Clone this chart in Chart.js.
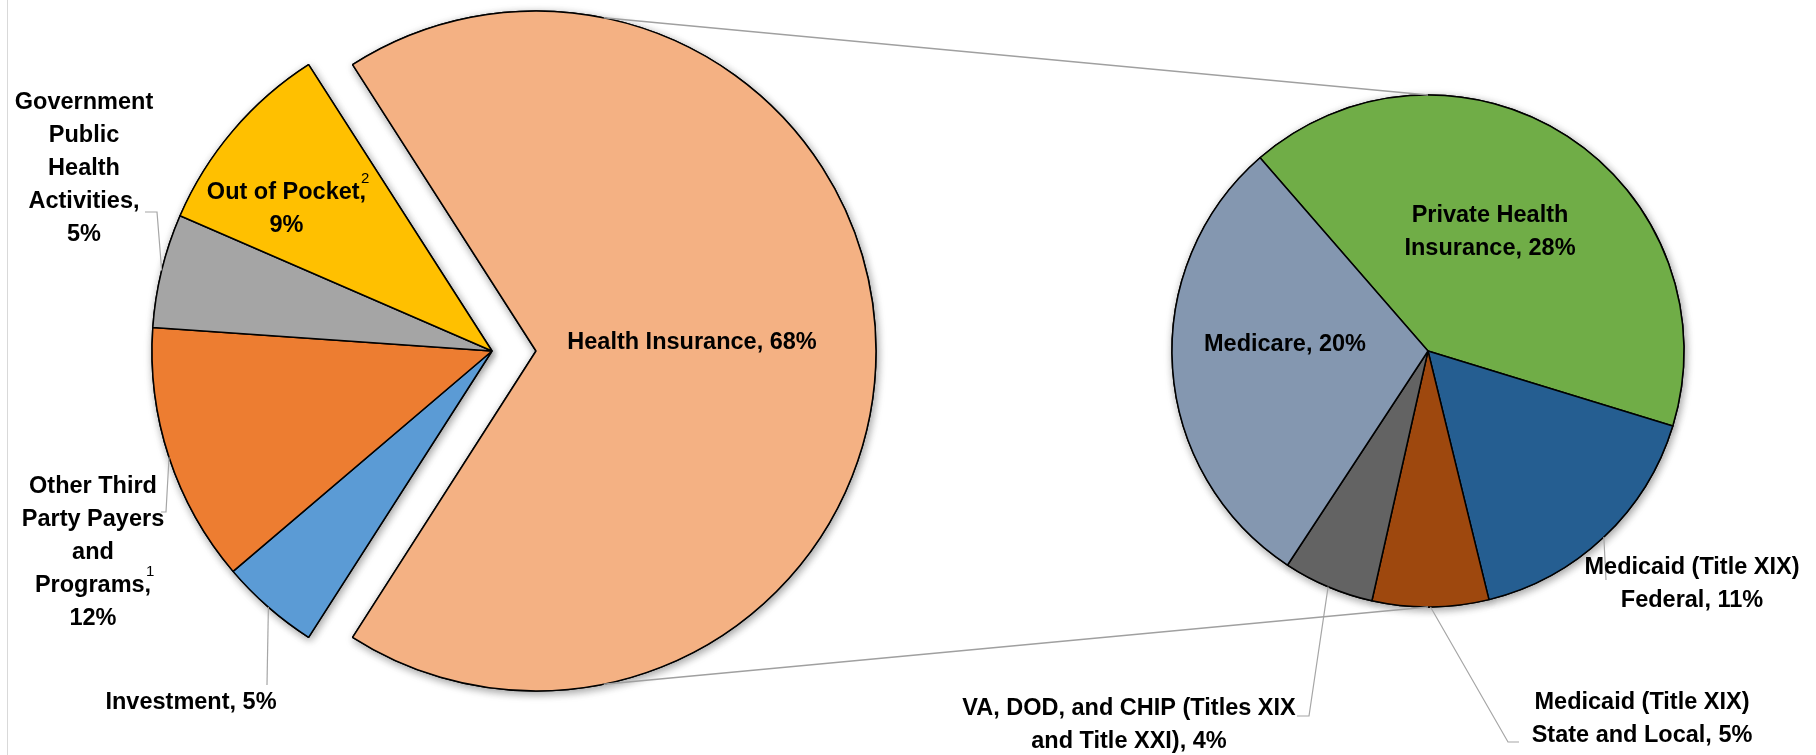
<!DOCTYPE html>
<html>
<head>
<meta charset="utf-8">
<script src="https://cdn.jsdelivr.net/npm/chart.js@4.4.1/dist/chart.umd.min.js"></script>
<style>
html,body{margin:0;padding:0;background:#fff;}
#wrap{position:relative;width:1816px;height:755px;overflow:hidden;background:#fff;}
#wrap canvas{position:absolute;left:0;top:0;}
#frame{position:absolute;left:7px;top:0;width:1px;height:755px;background:#d9d9d9;}
</style>
</head>
<body>
<div id="wrap">
  <div id="frame"></div>
  <canvas id="mainPie" width="1816" height="755"></canvas>
  <canvas id="subPie" width="1816" height="755"></canvas>
</div>
<script>
// ---------------- DATA ----------------
const mainCategories = ['Health Insurance', 'Investment', 'Other Third Party Payers and Programs', 'Government Public Health Activities', 'Out of Pocket'];
const mainValues = [68.0, 4.7, 12.3, 5.4, 9.4];
const mainColors = ['#F4B183', '#5B9BD5', '#ED7D31', '#A5A5A5', '#FFC000'];

const subCategories = ['Private Health Insurance', 'Medicaid (Title XIX) Federal', 'Medicaid (Title XIX) State and Local', 'VA, DOD, and CHIP (Titles XIX and Title XXI)', 'Medicare'];
const subValues = [28.0, 11.2, 5.0, 3.9, 20.0];
const subColors = ['#70AD47', '#255E91', '#9E480E', '#636363', '#8497B0'];

// ---------------- LAYOUT ----------------
const W = 1816, H = 755;
const FONT = '"Liberation Sans", Arial, sans-serif';
const LABEL_FONT = 'bold 23.5px ' + FONT;
const SUP_FONT = '15px ' + FONT;
const LINE_H = 33;
const mainCenter = {x: 492, y: 351}, mainRadius = 340, explodeDist = 44;
const subCenter = {x: 1428, y: 351}, subRadius = 256, subRotation = -41;

// label positions relative to the slice centre (px); {p} = value label
const mainLabelLayout = [
  {lines: ['Health Insurance, {p}'], dx: 156, dy: -8},
  {lines: ['Investment, {p}'], dx: -301, dy: 352, leader: [[-225, 334]]},
  {lines: ['Other Third', 'Party Payers', 'and', 'Programs,', '{p}'], sup: {line: 3, text: '1'}, dx: -399, dy: 136, leader: [[-326, 161], [-331, 161]]},
  {lines: ['Government', 'Public', 'Health', 'Activities,', '{p}'], dx: -408, dy: -248, leader: [[-335, -139], [-347, -139]]},
  {lines: ['Out of Pocket,', '{p}'], sup: {line: 0, text: '2'}, dx: -205.5, dy: -158}
];
const subLabelLayout = [
  {lines: ['Private Health', 'Insurance, {p}'], dx: 62, dy: -135},
  {lines: ['Medicaid (Title XIX)', 'Federal, {p}'], dx: 264, dy: 217, leader: [[178, 229]]},
  {lines: ['Medicaid (Title XIX)', 'State and Local, {p}'], dx: 214, dy: 352, leader: [[80, 391], [91, 391]]},
  {lines: ['VA, DOD, and CHIP (Titles XIX', 'and Title XXI), {p}'], dx: -299, dy: 358, leader: [[-119, 365], [-131, 365]]},
  {lines: ['Medicare, {p}'], dx: -143, dy: -6}
];

function paddingFor(c) {
  const p = {left: 0, right: 0, top: 0, bottom: 0};
  if (c.x * 2 < W) p.right = W - 2 * c.x; else p.left = 2 * c.x - W;
  if (c.y * 2 < H) p.bottom = H - 2 * c.y; else p.top = 2 * c.y - H;
  return p;
}

// pull the first slice out of the pie (like an exploded slice) without enlarging it
const explodePlugin = {
  id: 'explodeFirst',
  afterDatasetsUpdate(chart) {
    const arc = chart.getDatasetMeta(0).data[0];
    if (!arc || arc.$exploded) return;
    const mid = (arc.startAngle + arc.endAngle) / 2;
    arc.x += Math.cos(mid) * explodeDist;
    arc.y += Math.sin(mid) * explodeDist;
    arc.$exploded = true;
  }
};

const shadowPlugin = {
  id: 'pieShadow',
  beforeDatasetsDraw(chart) {
    const ctx = chart.ctx;
    const meta = chart.getDatasetMeta(0);
    ctx.save();
    ctx.shadowColor = 'rgba(0,0,0,0.38)';
    ctx.shadowBlur = 9;
    ctx.shadowOffsetX = 1.5;
    ctx.shadowOffsetY = 2.5;
    meta.data.forEach(a => a.draw(ctx));
    ctx.restore();
  }
};

function makeLabelPlugin(layout, values) {
  return {
    id: 'sliceLabels',
    afterDatasetsDraw(chart) {
      const ctx = chart.ctx;
      const meta = chart.getDatasetMeta(0);
      meta.data.forEach((arc, i) => {
        const L = layout[i];
        if (!L) return;
        const cx = arc.x, cy = arc.y;
        if (L.leader) {
          const mid = (arc.startAngle + arc.endAngle) / 2;
          ctx.save();
          ctx.strokeStyle = '#A6A6A6';
          ctx.lineWidth = 1.2;
          ctx.beginPath();
          ctx.moveTo(cx + Math.cos(mid) * arc.outerRadius, cy + Math.sin(mid) * arc.outerRadius);
          L.leader.forEach(pt => ctx.lineTo(cx + pt[0], cy + pt[1]));
          ctx.stroke();
          ctx.restore();
        }
        const pct = Math.round(values[i]) + '%';
        ctx.save();
        ctx.fillStyle = '#000';
        ctx.textAlign = 'center';
        ctx.textBaseline = 'middle';
        L.lines.forEach((ln, k) => {
          const txt = ln.replace('{p}', pct);
          const x = cx + L.dx, y = cy + L.dy + k * LINE_H;
          ctx.font = LABEL_FONT;
          ctx.fillText(txt, x, y);
          if (L.sup && L.sup.line === k) {
            const w = ctx.measureText(txt).width;
            ctx.font = SUP_FONT;
            ctx.fillText(L.sup.text, x + w / 2 - 1, y - 14);
          }
        });
        ctx.restore();
      });
    }
  };
}

const mainShare = mainValues[0] / mainValues.reduce((a, b) => a + b, 0);

const mainChart = new Chart(document.getElementById('mainPie'), {
  type: 'pie',
  data: {
    labels: mainCategories,
    datasets: [{
      data: mainValues,
      backgroundColor: mainColors,
      borderColor: '#000',
      borderWidth: 1.5,
      hoverOffset: 0
    }]
  },
  options: {
    responsive: false,
    animation: false,
    devicePixelRatio: 1,
    events: [],
    radius: mainRadius,
    rotation: 90 - mainShare * 360 / 2,
    layout: {padding: paddingFor(mainCenter)},
    plugins: {legend: {display: false}, tooltip: {enabled: false}}
  },
  plugins: [explodePlugin, shadowPlugin, makeLabelPlugin(mainLabelLayout, mainValues)]
});

const connectorPlugin = {
  id: 'seriesLines',
  afterDraw(chart) {
    const ctx = chart.ctx;
    const hi = mainChart.getDatasetMeta(0).data[0];
    const mid = (hi.startAngle + hi.endAngle) / 2;
    const R = hi.outerRadius;
    const a = 78.5 * Math.PI / 180;
    const s = chart.getDatasetMeta(0).data[0];
    const r2 = s.outerRadius;
    ctx.save();
    ctx.strokeStyle = '#A0A0A0';
    ctx.lineWidth = 1.5;
    ctx.beginPath();
    ctx.moveTo(hi.x + Math.cos(mid - a) * R, hi.y + Math.sin(mid - a) * R);
    ctx.lineTo(s.x, s.y - r2);
    ctx.moveTo(hi.x + Math.cos(mid + a) * R, hi.y + Math.sin(mid + a) * R);
    ctx.lineTo(s.x, s.y + r2);
    ctx.stroke();
    ctx.restore();
  }
};

const subChart = new Chart(document.getElementById('subPie'), {
  type: 'pie',
  data: {
    labels: subCategories,
    datasets: [{
      data: subValues,
      backgroundColor: subColors,
      borderColor: '#000',
      borderWidth: 1.5,
      hoverOffset: 0
    }]
  },
  options: {
    responsive: false,
    animation: false,
    devicePixelRatio: 1,
    events: [],
    radius: subRadius,
    rotation: subRotation,
    layout: {padding: paddingFor(subCenter)},
    plugins: {legend: {display: false}, tooltip: {enabled: false}}
  },
  plugins: [shadowPlugin, makeLabelPlugin(subLabelLayout, subValues), connectorPlugin]
});
</script>
</body>
</html>
